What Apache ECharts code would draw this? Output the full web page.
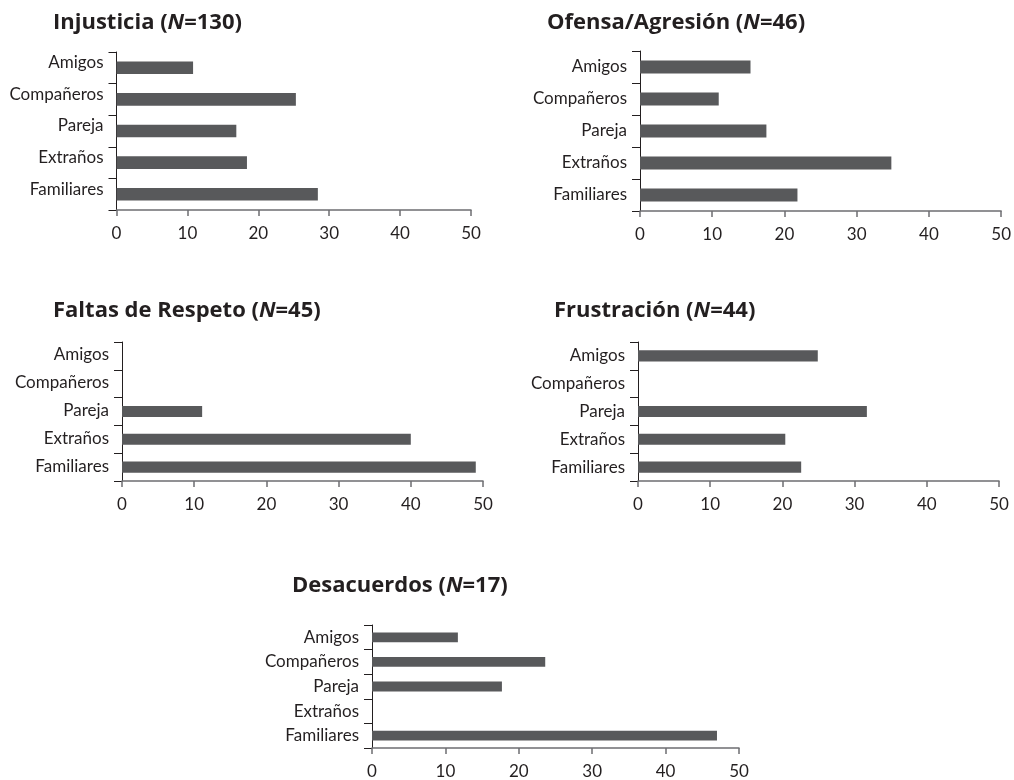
<!DOCTYPE html>
<html>
<head>
<meta charset="utf-8">
<script src="https://cdn.jsdelivr.net/npm/echarts@6/dist/echarts.min.js"></script>
<style>
html,body{margin:0;padding:0;background:#fff;}
#chart{width:1014px;height:780px;}
</style>
</head>
<body>
<div id="chart"></div>
<script>
const categories = ['Amigos', 'Compañeros', 'Pareja', 'Extraños', 'Familiares'];
const xTicks = [0, 10, 20, 30, 40, 50];

const titleNames = ['Injusticia', 'Ofensa/Agresión', 'Faltas de Respeto', 'Frustración', 'Desacuerdos'];
const titleN = [130, 46, 45, 44, 17];

const injusticia = [10.8, 25.3, 16.9, 18.4, 28.4];
const ofensa = [15.3, 10.9, 17.5, 34.8, 21.8];
const faltas = [0, 0, 11.1, 40.0, 49.0];
const frustracion = [24.9, 0, 31.7, 20.4, 22.6];
const desacuerdos = [11.7, 23.6, 17.7, 0, 47.0];

const seriesData = [injusticia, ofensa, faltas, frustracion, desacuerdos];

// layout (pixels)
const grids = [
  {left: 116.5, top: 52, width: 354.5, height: 158},
  {left: 640, top: 51, width: 362, height: 160},
  {left: 122, top: 342, width: 361, height: 139},
  {left: 638, top: 342, width: 361, height: 139},
  {left: 372, top: 625, width: 367, height: 126}
];
const titlePos = [
  {left: 53, top: 10},
  {left: 547, top: 10},
  {left: 53, top: 297.5},
  {left: 554, top: 297.5},
  {left: 292, top: 573}
];
// upward shift (px) of the category labels relative to the bars
const labelShift = [5, 0, 1, 0, 0];

const textColor = '#231f20';
const barColor = '#58595b';
const titleFont = '"Open Sans", "Noto Sans", sans-serif';
const labelFont = 'Lato, "Open Sans", sans-serif';

const option = {
  backgroundColor: '#fff',
  animation: false,
  title: titleNames.map((t, i) => ({
    text: '{b|' + t + ' (}{i|N}{b|=' + titleN[i] + ')}',
    left: titlePos[i].left,
    top: titlePos[i].top,
    padding: 0,
    textStyle: {
      rich: {
        b: {fontFamily: titleFont, fontWeight: 'bold', fontSize: 22, color: textColor, lineHeight: 26},
        i: {fontFamily: titleFont, fontWeight: 'bold', fontStyle: 'italic', fontSize: 22, color: textColor, lineHeight: 26}
      }
    }
  })),
  grid: grids.map(g => Object.assign({containLabel: false}, g)),
  xAxis: grids.map((g, i) => ({
    type: 'value',
    gridIndex: i,
    min: xTicks[0],
    max: xTicks[xTicks.length - 1],
    interval: 10,
    splitLine: {show: false},
    axisLine: {show: true, lineStyle: {color: '#6d6e71', width: 1.5}},
    axisTick: {show: true, length: 6, lineStyle: {color: '#6d6e71', width: 1.5}},
    axisLabel: {color: textColor, fontFamily: labelFont, fontSize: 17, margin: 15}
  })),
  yAxis: grids.map((g, i) => ({
    type: 'category',
    gridIndex: i,
    data: categories,
    inverse: true,
    axisLine: {show: true, lineStyle: {color: textColor, width: 1}},
    axisTick: {show: true, length: 8, lineStyle: {color: textColor, width: 1}},
    axisLabel: labelShift[i] > 0 ? {
      color: textColor, fontFamily: labelFont, fontSize: 17, margin: 13,
      verticalAlign: 'bottom', lineHeight: labelShift[i] * 2
    } : {
      color: textColor, fontFamily: labelFont, fontSize: 17, margin: 13
    }
  })),
  series: seriesData.map((d, i) => ({
    type: 'bar',
    xAxisIndex: i,
    yAxisIndex: i,
    data: d,
    barWidth: '40%',
    itemStyle: {color: barColor},
    silent: true
  }))
};

const chart = echarts.init(document.getElementById('chart'), null, {renderer: 'canvas'});
chart.setOption(option);
</script>
</body>
</html>
